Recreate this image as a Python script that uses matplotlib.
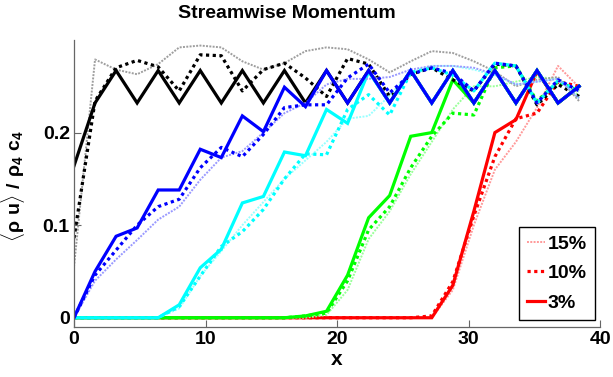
import matplotlib
matplotlib.use("Agg")
import matplotlib.pyplot as plt

plt.rcParams['font.family'] = ['Liberation Sans', 'DejaVu Sans']
plt.rcParams['font.weight'] = 'bold'
plt.rcParams['mathtext.fontset'] = 'custom'
plt.rcParams['mathtext.rm'] = 'Liberation Sans'
plt.rcParams['mathtext.it'] = 'Liberation Sans'
plt.rcParams['mathtext.bf'] = 'Liberation Sans:bold'

# sample positions along the channel
x = [0, 1.6, 3.2, 4.8, 6.4, 8.0, 9.6, 11.2, 12.8, 14.4, 16.0, 17.6, 19.2,
     20.8, 22.4, 24.0, 25.6, 27.2, 28.8, 30.4, 32.0, 33.6, 35.2, 36.8, 38.4]

# 3% runs (solid)
red_3 = [0, 0, 0, 0, 0, 0, 0, 0, 0, 0, 0, 0, 0, 0, 0, 0, 0, 0,
         0.035, 0.115, 0.200, 0.214, 0.266, 0.232, 0.250]
green_3 = [0, 0, 0, 0, 0, 0, 0, 0, 0, 0, 0, 0.002, 0.007, 0.046, 0.108,
           0.132, 0.196, 0.200, 0.257, 0.232, 0.267, 0.232, 0.267, 0.232, 0.250]
black_3 = [0.164, 0.232, 0.267, 0.232, 0.267, 0.232, 0.267, 0.232, 0.267,
           0.232, 0.267, 0.232, 0.267, 0.232, 0.267, 0.232, 0.267, 0.232,
           0.267, 0.232, 0.267, 0.232, 0.267, 0.232, 0.250]
cyan_3 = [0, 0, 0, 0, 0, 0.014, 0.054, 0.074, 0.124, 0.131, 0.179, 0.175,
          0.225, 0.210, 0.266, 0.232, 0.267, 0.232, 0.267, 0.232, 0.267,
          0.232, 0.267, 0.232, 0.250]
blue_3 = [0, 0.050, 0.088, 0.097, 0.138, 0.138, 0.182, 0.173, 0.218, 0.201,
          0.249, 0.228, 0.267, 0.232, 0.267, 0.232, 0.267, 0.232, 0.267,
          0.232, 0.267, 0.232, 0.267, 0.232, 0.250]

# 10% runs (thick dotted)
red_10 = [0, 0, 0, 0, 0, 0, 0, 0, 0, 0, 0, 0, 0, 0, 0, 0, 0,
          0.002, 0.039, 0.110, 0.174, 0.215, 0.221, 0.255, 0.250]
green_10 = [0, 0, 0, 0, 0, 0, 0, 0, 0, 0, 0, 0.002, 0.005, 0.040, 0.095,
            0.120, 0.162, 0.196, 0.221, 0.219, 0.270, 0.272, 0.234, 0.255, 0.245]
black_10 = [0.086, 0.234, 0.270, 0.278, 0.271, 0.245, 0.284, 0.283, 0.245,
            0.268, 0.275, 0.259, 0.239, 0.280, 0.274, 0.239, 0.263, 0.270,
            0.257, 0.245, 0.274, 0.272, 0.230, 0.252, 0.239]
cyan_10 = [0, 0, 0, 0, 0, 0.012, 0.045, 0.077, 0.093, 0.117, 0.150, 0.177,
           0.176, 0.225, 0.241, 0.219, 0.265, 0.270, 0.262, 0.245, 0.275,
           0.272, 0.232, 0.256, 0.245]
blue_10 = [0, 0.046, 0.073, 0.100, 0.120, 0.128, 0.162, 0.184, 0.174, 0.198,
           0.227, 0.230, 0.230, 0.259, 0.274, 0.243, 0.263, 0.270, 0.264,
           0.245, 0.275, 0.272, 0.232, 0.257, 0.245]

# 15% runs (thin, pale dotted)
red_15 = [0, 0, 0, 0, 0, 0, 0, 0, 0, 0, 0, 0, 0, 0, 0, 0, 0, 0,
          0.030, 0.100, 0.160, 0.190, 0.227, 0.272, 0.249]
green_15 = [0, 0, 0, 0, 0, 0, 0, 0, 0, 0, 0, 0, 0.003, 0.030, 0.085, 0.115,
            0.155, 0.190, 0.225, 0.250, 0.250, 0.255, 0.260, 0.258, 0.240]
black_15 = [0.055, 0.279, 0.268, 0.263, 0.274, 0.292, 0.294, 0.292, 0.277,
            0.268, 0.275, 0.288, 0.292, 0.290, 0.279, 0.265, 0.277, 0.288,
            0.286, 0.277, 0.266, 0.250, 0.257, 0.260, 0.234]
cyan_15 = [0, 0, 0, 0, 0, 0.010, 0.045, 0.072, 0.100, 0.125, 0.150, 0.170,
           0.190, 0.215, 0.218, 0.240, 0.265, 0.272, 0.272, 0.268, 0.262,
           0.252, 0.255, 0.258, 0.237]
blue_15 = [0, 0.040, 0.063, 0.084, 0.106, 0.120, 0.149, 0.173, 0.180, 0.200,
           0.221, 0.232, 0.252, 0.258, 0.258, 0.260, 0.268, 0.272, 0.272,
           0.270, 0.263, 0.252, 0.255, 0.258, 0.237]

legend_labels = ['15%', '10%', '3%']

# (full colour, pale colour, [15%, 10%, 3%])
runs = [
    ((1, 0, 0), (1, 0.6, 0.6), [red_15, red_10, red_3]),
    ((0, 1, 0), (0.6, 1, 0.6), [green_15, green_10, green_3]),
    ((0, 0, 0), (0.62, 0.62, 0.62), [black_15, black_10, black_3]),
    ((0, 1, 1), (0.6, 1, 1), [cyan_15, cyan_10, cyan_3]),
    ((0, 0, 1), (0.6, 0.6, 1), [blue_15, blue_10, blue_3]),
]

fig = plt.figure(figsize=(6.13, 3.77), dpi=100)
ax = fig.add_axes([0.1207, 0.1326, 0.8583, 0.7613])

handles = []
for col, pale, (y15, y10, y3) in runs:
    h1, = ax.plot(x, y15, color=pale, lw=1.4, ls=(0, (1, 0.7)))
    h2, = ax.plot(x, y10, color=col, lw=2.3, ls=(0, (1, 1.1)))
    h3, = ax.plot(x, y3, color=col, lw=2.3, solid_joinstyle='miter')
    if not handles:
        handles = [h1, h2, h3]  # legend uses the red set

ax.set_xlim(0, 40)
ax.set_ylim(-0.01, 0.30)
ax.set_xticks([0, 10, 20, 30, 40])
ax.set_yticks([0, 0.1, 0.2])
ax.set_yticklabels(['0', '0.1', '0.2'])
ax.tick_params(direction='in', length=5, width=0.8, color='#666666',
               labelsize=14, pad=3)
for lab in ax.get_xticklabels() + ax.get_yticklabels():
    lab.set_fontweight('bold')

ax.spines['top'].set_visible(False)
ax.spines['right'].set_visible(False)
for s in ['left', 'bottom']:
    ax.spines[s].set_color('#666666')
    ax.spines[s].set_linewidth(0.9)

ax.set_xlabel('x', fontsize=15, fontweight='bold', labelpad=1)
ax.set_ylabel(r'$\langle\rho\ \mathbf{u}\rangle\ /\ \rho_\mathbf{4}\ \mathbf{c}_\mathbf{4}$',
              fontsize=14)
ax.yaxis.set_label_coords(-0.09, 0.49)

fig.text(287 / 613, 1 - 14 / 377, 'Streamwise Momentum', ha='center',
         va='center', fontsize=14, fontweight='bold')

leg = ax.legend(handles, legend_labels, loc='upper right',
                bbox_to_anchor=(0.99, 0.348), borderaxespad=0,
                fontsize=14, handlelength=0.95, handletextpad=0.15,
                labelspacing=0.62, borderpad=0.4, fancybox=False,
                framealpha=1)
leg.get_frame().set_edgecolor('black')
leg.get_frame().set_linewidth(1.0)
for t in leg.get_texts():
    t.set_fontweight('bold')

fig.savefig('out.png', dpi=100)
